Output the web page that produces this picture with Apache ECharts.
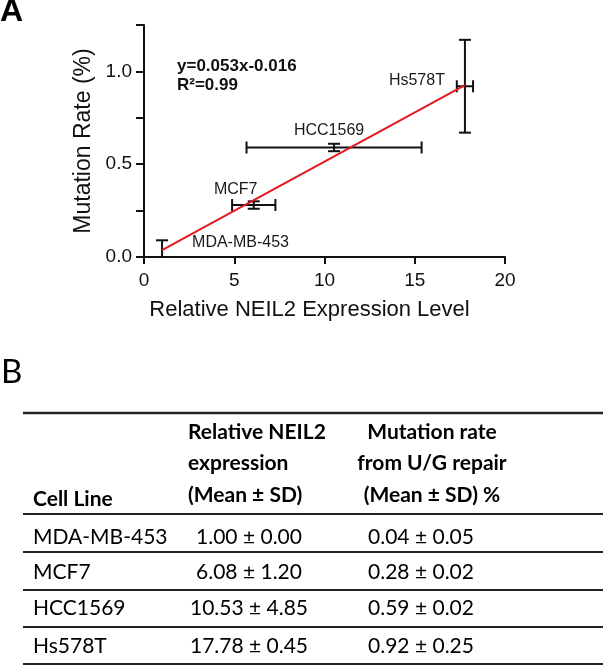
<!DOCTYPE html>
<html>
<head>
<meta charset="utf-8">
<script src="https://cdn.jsdelivr.net/npm/echarts@6/dist/echarts.min.js"></script>
<style>
html,body{margin:0;padding:0;background:#fff;}
#chart{width:603px;height:666px;}
</style>
</head>
<body>
<div id="chart"></div>
<script>
// ---------- data ----------
const cellLines = ['MDA-MB-453', 'MCF7', 'HCC1569', 'Hs578T'];
const neil2Mean = [1.00, 6.08, 10.53, 17.78];
const neil2SD = [0.00, 1.20, 4.85, 0.45];
const mutMean = [0.04, 0.28, 0.59, 0.92];
const mutSD = [0.05, 0.02, 0.02, 0.25];
const fitX = [1.00, 17.78];
const fitY = [0.037, 0.926];
const yLabelValues = [0, 0.5, 1.0];
const equationLines = ['y=0.053x-0.016', 'R\u00B2=0.99'];
const headerCol1 = ['Cell Line'];
const headerCol2 = ['Relative NEIL2', 'expression', '(Mean \u00B1 SD)'];
const headerCol3 = ['Mutation rate', 'from U/G repair', '(Mean \u00B1 SD) %'];

// ---------- chart ----------
const chart = echarts.init(document.getElementById('chart'), null, {renderer: 'canvas'});
const sansFont = '"Liberation Sans", Arial, sans-serif';
const tableFont = 'Lato, "Open Sans", sans-serif';

const pointData = cellLines.map((n, i) => [neil2Mean[i], mutMean[i], neil2SD[i], mutSD[i], i]);

const labelStyle = [
  {align: 'left', dx: 30, dy: -7},
  {align: 'center', dx: -18, dy: -15},
  {align: 'center', dx: -5, dy: -17},
  {align: 'right', dx: -20, dy: -6}
];

const cap = 6;
function errRender(params, api) {
  const x = api.value(0), y = api.value(1), sx = api.value(2), sy = api.value(3);
  const children = [];
  const style = {stroke: '#111', lineWidth: 2, fill: null};
  if (sx > 0) {
    const l = api.coord([x - sx, y]), r = api.coord([x + sx, y]);
    children.push({type: 'line', shape: {x1: l[0], y1: l[1], x2: r[0], y2: r[1]}, style});
    children.push({type: 'line', shape: {x1: l[0], y1: l[1] - cap, x2: l[0], y2: l[1] + cap}, style});
    children.push({type: 'line', shape: {x1: r[0], y1: r[1] - cap, x2: r[0], y2: r[1] + cap}, style});
  }
  if (sy > 0) {
    const t = api.coord([x, y + sy]), b = api.coord([x, y - sy]);
    children.push({type: 'line', shape: {x1: t[0], y1: t[1], x2: b[0], y2: b[1]}, style});
    children.push({type: 'line', shape: {x1: t[0] - cap, y1: t[1], x2: t[0] + cap, y2: t[1]}, style});
    children.push({type: 'line', shape: {x1: b[0] - cap, y1: b[1], x2: b[0] + cap, y2: b[1]}, style});
  }
  return {type: 'group', children};
}
function labelRender(params, api) {
  const idx = api.value(4);
  const p = api.coord([api.value(0), api.value(1)]);
  const ls = labelStyle[idx];
  return {type: 'text', x: p[0] + ls.dx, y: p[1] + ls.dy,
    style: {text: cellLines[idx], font: '16px ' + sansFont, fill: '#1a1a1a', align: ls.align, verticalAlign: 'middle'}};
}

// graphics: panel letters, equation, table
const graphics = [];
graphics.push({type: 'text', left: 0, top: -4, style: {text: 'A', font: 'bold 32px ' + sansFont, fill: '#000'}});
graphics.push({type: 'text', left: 1, top: 356, style: {text: 'B', font: '33px ' + tableFont, fill: '#000'}});
equationLines.forEach((t, i) => {
  graphics.push({type: 'text', x: 177, y: [66, 85][i], style: {text: t, font: 'bold 17px ' + sansFont, fill: '#111', verticalAlign: 'middle', align: 'left'}});
});
const lineYs = [413, 514, 552, 590, 627, 664];
lineYs.forEach((y, i) => {
  graphics.push({type: 'line', shape: {x1: 23, y1: y, x2: 603, y2: y}, style: {stroke: '#222', lineWidth: i === 0 ? 2.5 : 2}});
});
const hYs = [432, 463, 495];
graphics.push({type: 'text', x: 33, y: 499, style: {text: headerCol1[0], font: 'bold 21px ' + tableFont, fill: '#000', verticalAlign: 'middle', align: 'left'}});
headerCol2.forEach((t, i) => graphics.push({type: 'text', x: 188, y: hYs[i], style: {text: t, font: 'bold 21px ' + tableFont, fill: '#000', verticalAlign: 'middle', align: 'left'}}));
headerCol3.forEach((t, i) => graphics.push({type: 'text', x: 432, y: hYs[i], style: {text: t, font: 'bold 21px ' + tableFont, fill: '#000', verticalAlign: 'middle', align: 'center'}}));
const rowYs = [537, 572, 608, 646];
cellLines.forEach((n, i) => {
  graphics.push({type: 'text', x: 33, y: rowYs[i], style: {text: n, font: '21px ' + tableFont, fill: '#000', verticalAlign: 'middle', align: 'left'}});
  graphics.push({type: 'text', x: 249, y: rowYs[i], style: {text: neil2Mean[i].toFixed(2) + ' \u00B1 ' + neil2SD[i].toFixed(2), font: '21px ' + tableFont, fill: '#000', verticalAlign: 'middle', align: 'center'}});
  graphics.push({type: 'text', x: 421, y: rowYs[i], style: {text: mutMean[i].toFixed(2) + ' \u00B1 ' + mutSD[i].toFixed(2), font: '21px ' + tableFont, fill: '#000', verticalAlign: 'middle', align: 'center'}});
});

const option = {
  animation: false,
  backgroundColor: '#fff',
  grid: {left: 144, right: 98, top: 25, bottom: 409, containLabel: false},
  xAxis: {
    type: 'value', min: 0, max: 20, interval: 5,
    name: 'Relative NEIL2 Expression Level', nameLocation: 'middle', nameGap: 42,
    nameTextStyle: {fontFamily: sansFont, fontSize: 22, color: '#111', padding: [0, 30, 0, 0]},
    axisLine: {show: true, onZero: false, lineStyle: {color: '#111', width: 2}},
    axisTick: {show: true, inside: false, length: 7, lineStyle: {color: '#111', width: 2}},
    axisLabel: {fontFamily: sansFont, fontSize: 19, color: '#111', margin: 14},
    splitLine: {show: false}
  },
  yAxis: {
    type: 'value', min: 0, max: 1.25, interval: 0.25,
    name: 'Mutation Rate (%)', nameLocation: 'middle', nameGap: 42,
    nameTextStyle: {fontFamily: sansFont, fontSize: 23, color: '#111'},
    axisLine: {show: true, onZero: false, lineStyle: {color: '#111', width: 2}},
    axisTick: {show: true, inside: false, length: 8, lineStyle: {color: '#111', width: 2}},
    axisLabel: {fontFamily: sansFont, fontSize: 19, color: '#111', margin: 12,
      formatter: v => yLabelValues.some(t => Math.abs(t - v) < 1e-9) ? v.toFixed(1) : ''},
    splitLine: {show: false}
  },
  series: [
    {
      type: 'line', data: fitX.map((x, i) => [x, fitY[i]]), symbol: 'none',
      lineStyle: {color: '#e3191c', width: 2}, z: 3, silent: true
    },
    {
      type: 'custom', renderItem: errRender, data: pointData, clip: true, z: 2,
      encode: {x: 0, y: 1}, silent: true
    },
    {
      type: 'custom', renderItem: labelRender, data: pointData, clip: false, z: 4,
      encode: {x: 0, y: 1}, silent: true
    }
  ],
  graphic: graphics
};
chart.setOption(option);
</script>
</body>
</html>
